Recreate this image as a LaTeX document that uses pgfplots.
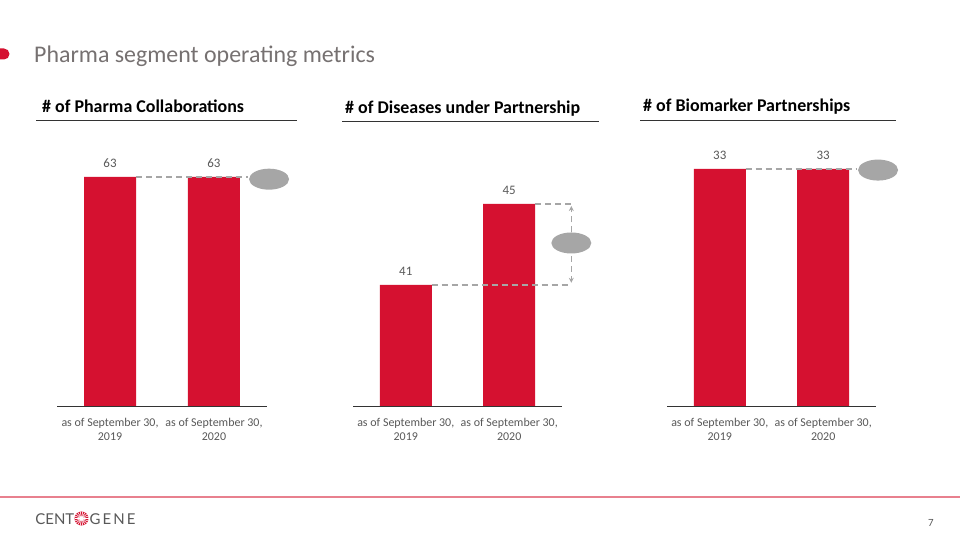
\documentclass[border=0pt]{standalone}
\usepackage{fontspec}
\setmainfont{Carlito}
\newfontfamily\logofontA[LetterSpace=0]{Lato}
\newfontfamily\logofontB[LetterSpace=14]{Lato}
\usepackage{pgfplots}
\pgfplotsset{compat=1.18}
\usetikzlibrary{arrows.meta}
\definecolor{barred}{RGB}{213,17,48}
\definecolor{txtgray}{RGB}{89,89,89}
\definecolor{titlegray}{RGB}{118,113,113}
\definecolor{dashgray}{RGB}{166,166,166}
\definecolor{footline}{RGB}{232,128,142}
\pgfplotsset{panel/.style={
  scale only axis, anchor=south west, ybar, bar width=52bp, bar shift=0pt,
  xmin=-0.51, xmax=1.51, xtick={0,1},
  xticklabels={{as of September 30,\\2019},{as of September 30,\\2020}},
  xticklabel style={align=center, font=\fontsize{12}{14}\selectfont, text=txtgray, yshift=-9bp},
  axis x line=bottom, axis y line=none,
  x axis line style={-, draw=black!80, line width=0.9bp},
  major tick length=0pt,
  /pgf/number format/assume math mode=true,
  nodes near coords,
  nodes near coords style={font=\fontsize{13}{15}\selectfont, text=txtgray, yshift=5.5bp},
  clip=false,
}}
\tikzset{dsh/.style={draw=dashgray, line width=1.5bp, dash pattern=on 6bp off 4bp}}
\begin{document}
\begin{tikzpicture}
\useasboundingbox (0,0) rectangle (960bp,540bp);
\begin{scope}[x=1bp,y=1bp]
\fill[white] (0,0) rectangle (960,540);
% title
\fill[barred, rounded corners=5.5bp] (-12,480.5) rectangle (9.5,491.5);
\node[anchor=base west, inner sep=0, text=titlegray, font=\fontsize{24}{28}\selectfont] at (34,477) {Pharma segment operating metrics};
% headings
\node[anchor=base west, inner sep=0, font=\bfseries\fontsize{18}{21}\selectfont] at (42,427) {\# of Pharma Collaborations};
\draw[black!80, line width=0.9bp] (36,420) -- (297,420);
\node[anchor=base west, inner sep=0, font=\bfseries\fontsize{18}{21}\selectfont] at (345,426) {\# of Diseases under Partnership};
\draw[black!80, line width=0.9bp] (342,419) -- (599,419);
\node[anchor=base west, inner sep=0, font=\bfseries\fontsize{18}{21}\selectfont] at (643,428) {\# of Biomarker Partnerships};
\draw[black!80, line width=0.9bp] (640,420) -- (896,420);
% footer
\draw[footline, line width=1.5bp] (0,43) -- (960,43);
\node[anchor=base east, inner sep=0, text=txtgray, font=\logofontA\fontsize{15}{18}\selectfont] at (74.5,16) {CENT};
\node[anchor=base west, inner sep=0, text=txtgray, font=\logofontB\fontsize{15}{18}\selectfont] at (89.5,16) {GENE};
\fill[barred] (81.5,21.5) circle (7bp);
\foreach \a in {0,20,...,340} {
  \draw[white, line width=0.6bp] (81.5,21.5) -- ++(\a:7bp);
}
\fill[white] (81.5,21.5) circle (2.2bp);
\node[anchor=base, inner sep=0, text=txtgray, font=\fontsize{11}{13}\selectfont] at (931,14) {7};
\end{scope}

% panel 1
\begin{axis}[panel, at={(57bp,134bp)}, width=210bp, height=229bp, ymin=0, ymax=63]
\addplot[fill=barred, draw=none] coordinates {(0,63) (1,63)};
\draw[dsh] (axis cs:0.25,63) -- (axis cs:1.33,63);
\fill[dashgray] (axis cs:1.53,62.4) ellipse [x radius=20bp, y radius=10.5bp];
\end{axis}

% panel 2
\begin{axis}[panel, at={(353bp,134bp)}, width=209bp, height=202bp, ymin=35, ymax=45]
\addplot[fill=barred, draw=none] coordinates {(0,41) (1,45)};
\draw[dsh] (axis cs:0.25,41) -- (axis cs:1.60,41);
\draw[dsh] (axis cs:1.25,45) -- (axis cs:1.60,45);
\draw[dsh, -{Stealth[length=5bp,width=5bp]}] (axis cs:1.60,43.1) -- (axis cs:1.60,44.9);
\draw[dsh, -{Stealth[length=5bp,width=5bp]}] (axis cs:1.60,42.9) -- (axis cs:1.60,41.1);
\fill[dashgray] (axis cs:1.60,43.07) ellipse [x radius=20bp, y radius=10.5bp];
\end{axis}

% panel 3
\begin{axis}[panel, at={(667bp,134bp)}, width=209bp, height=237bp, ymin=0, ymax=33]
\addplot[fill=barred, draw=none] coordinates {(0,33) (1,33)};
\draw[dsh] (axis cs:0.25,33) -- (axis cs:1.33,33);
\fill[dashgray] (axis cs:1.53,32.85) ellipse [x radius=20bp, y radius=10.5bp];
\end{axis}
\end{tikzpicture}
\end{document}
